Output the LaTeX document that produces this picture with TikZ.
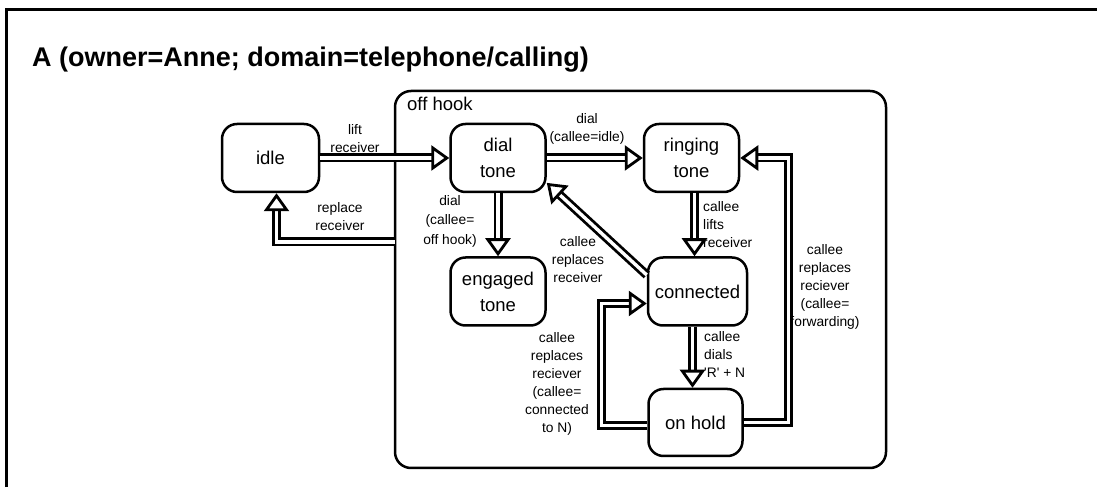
\documentclass[tikz,border=0pt]{standalone}
\usepackage{fontspec}
\setmainfont{Liberation Sans}
\usetikzlibrary{arrows.meta,positioning,decorations.markings}

\begin{document}
\begin{tikzpicture}[x=1pt,y=1pt,
      node distance=63pt and 96pt,
      state/.style={draw,line width=2.5pt,rounded corners=15pt,minimum width=95pt,
        minimum height=68pt,inner sep=2pt,align=center,font=\fontsize{18.5}{26}\selectfont},
      trans/.style={draw,double,line width=2.8pt,double distance=3.4pt,shorten >=16pt,
        postaction={decorate,decoration={markings,mark=at position 1 with
          {\pgfsetinnerlinewidth{0pt}\arrow[line width=2.8pt]{Triangle[open,length=18pt,width=25pt]}}}}},
      lbl/.style={inner sep=0pt,align=center,font=\fontsize{13.8}{18}\selectfont}]
      \useasboundingbox (0,0) rectangle (1097,487);
      \draw[line width=3pt] (6.5,0) -- (6.5,477) -- (1097,477);
      \node[anchor=base west,inner sep=0pt,font=\fontsize{27}{32}\bfseries] (title) at (32,420)
        {A (owner=Anne; domain=telephone/calling)};

      % the off hook super state
      \node[draw,line width=2.5pt,rounded corners=16pt,minimum width=491pt,minimum height=377pt] (offhook) at (640.5,207.5) {};
      \node[anchor=base west,inner sep=0pt,font=\fontsize{18.5}{22}\selectfont] (hooklbl) at (407,376) {off hook};

      \node[state] (dialtone) at (498,329) {dial\\tone};
      \node[state,minimum width=97pt] (idle) [left=129pt of dialtone] {idle};
      \node[state] (ringing) [right=of dialtone] {ringing\\tone};
      \node[state] (engaged) [below=of dialtone] {engaged\\tone};
      \node[state,minimum width=99pt] (connected) [below=of ringing,xshift=6pt] {connected};
      \node[state,minimum width=94pt,minimum height=67pt] (onhold) [below=61pt of connected,xshift=-2pt] {on hold};
      \coordinate (hookexit) at (395,245);

      \draw[trans] (idle) -- (dialtone);
      \draw[trans] (hookexit) -| ([xshift=6pt]idle.south);
      \draw[trans] (dialtone) -- (ringing);
      \draw[trans] (dialtone) -- (engaged);
      \draw[trans] ([xshift=3pt]ringing.south) -- ([xshift=3pt]ringing.south |- connected.north);
      \draw[trans] (connected.162) -- (dialtone.-27);
      \draw[trans] ([xshift=-3pt]onhold.north |- connected.south) -- ([xshift=-3pt]onhold.north);
      \draw[trans] ([yshift=-3pt]onhold.west) -- ++(-46,0) |- ([yshift=-12pt]connected.west);
      \draw[trans] (onhold.east) -- ++(45,0) |- (ringing.east);

      % transition labels
      \node[lbl] (l1) at (355,348.5) {lift\\receiver};
      \node[lbl] (l2) at (340,270) {replace\\receiver};
      \node[lbl] (l3) at (587,358.5) {dial\\(callee=idle)};
      \node[lbl,font=\fontsize{13.8}{19.5}\selectfont] (l4) at (450,266) {dial\\(callee=\\off hook)};
      \node[lbl] (l5) at (578,227.5) {callee\\replaces\\receiver};
      \node[lbl,anchor=west,align=left] (l6) at (703,262.5) {callee\\lifts\\receiver};
      \node[lbl,anchor=west,align=left] (l7) at (704,132) {callee\\dials\\\textquotesingle R\textquotesingle{} + N};
      \node[lbl] (l8) at (557,103.5) {callee\\replaces\\reciever\\(callee=\\connected\\to N)};
      \node[lbl] (l9) at (825,200.5) {callee\\replaces\\reciever\\(callee=\\forwarding)};
\end{tikzpicture}
\end{document}
